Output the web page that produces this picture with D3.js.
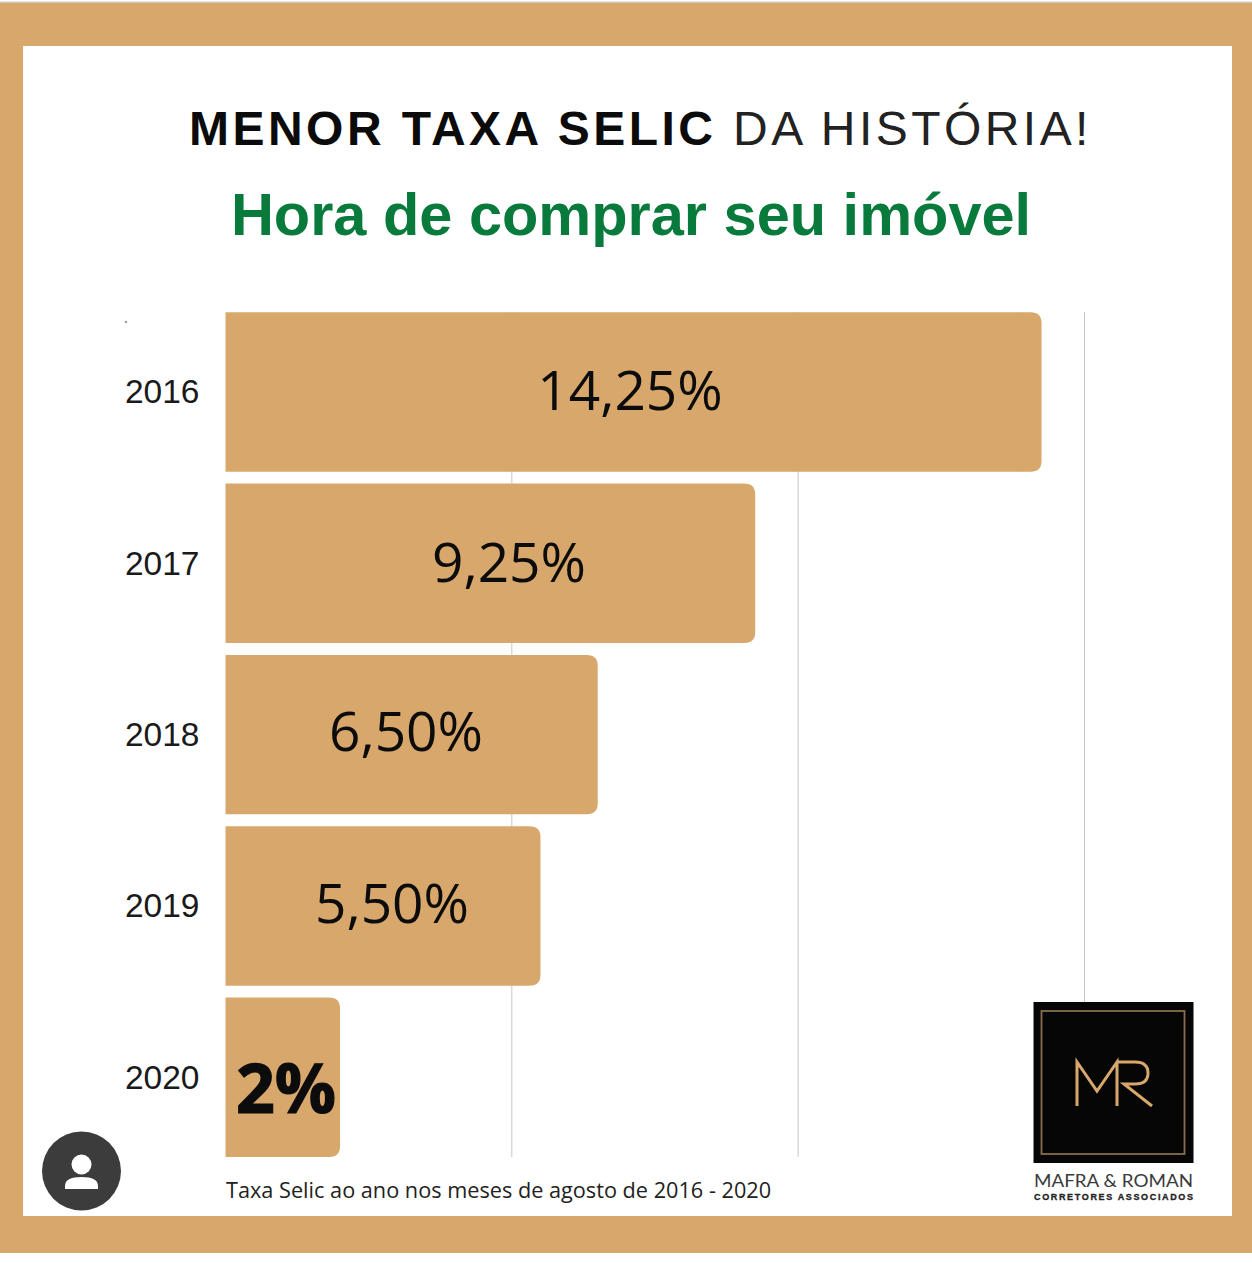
<!DOCTYPE html>
<html><head><meta charset="utf-8">
<script src="https://cdn.jsdelivr.net/npm/d3@7/dist/d3.min.js"></script>
<style>html,body{margin:0;padding:0;background:#fff;overflow:hidden}svg{display:block}</style>
</head><body><svg id="c" width="1252" height="1263"></svg>
<script>
const years = ["2016","2017","2018","2019","2020"];
const selic = [14.25,9.25,6.5,5.5,2];
const valueLabels = ["14,25%","9,25%","6,50%","5,50%","2%"];
const gridTicks = [5,10,15];
const titleBold = "MENOR TAXA SELIC";
const titleLight = " DA HISTÓRIA!";
const subtitle = "Hora de comprar seu imóvel";
const footnote = "Taxa Selic ao ano nos meses de agosto de 2016 - 2020";
const tan = "#d7a76c";
const svg = d3.select("#c");
const sans = "'Liberation Sans',Arial,sans-serif", open = "'Open Sans',sans-serif";

svg.append("rect").attr("x",0).attr("y",3).attr("width",1252).attr("height",1250).attr("fill",tan);
svg.append("rect").attr("x",0).attr("y",1.5).attr("width",1252).attr("height",1.5).attr("fill","#cfc8bd");
svg.append("rect").attr("x",23).attr("y",46).attr("width",1209).attr("height",1170).attr("fill","#fff");

const x = d3.scaleLinear().domain([0,15]).range([225.5,1084.5]);
const y = d3.scaleBand().domain(years).range([312.3,1157]).paddingInner(0.0695).paddingOuter(0);

const grid = svg.append("g");
grid.selectAll("line").data(gridTicks).join("line")
  .attr("x1",d=>x(d)).attr("x2",d=>x(d)).attr("y1",312).attr("y2",1157)
  .attr("stroke","#c6c6c6").attr("stroke-width",1);

const r = 11;
svg.append("g").selectAll("path").data(years).join("path")
  .attr("fill",tan)
  .attr("d",(d,i)=>{
    const x0=x(0),x1=x(selic[i]),t=y(d),b=t+y.bandwidth();
    return `M${x0},${t}H${x1-r}Q${x1},${t} ${x1},${t+r}V${b-r}Q${x1},${b} ${x1-r},${b}H${x0}Z`;
  });

const axis = d3.axisLeft(y).tickSize(0).tickPadding(26);
const ag = svg.append("g").attr("transform",`translate(${x(0)},0)`).call(axis);
ag.select(".domain").remove();
ag.selectAll("text").attr("font-family",sans).attr("font-size",33.5).attr("fill","#1a1a1a").attr("dy","0.32em")
  .attr("y",0.5);

const labelCx = [630,509,406,392,286];
const labelDy = [18,19,16,17.5,36];
svg.append("g").selectAll("text").data(years).join("text")
  .attr("x",(d,i)=>labelCx[i])
  .attr("y",(d,i)=>y(d)+y.bandwidth()/2+labelDy[i])
  .attr("text-anchor","middle").attr("font-family",open).attr("fill","#0c0c0c")
  .attr("font-size",(d,i)=>i===4?68:55)
  .attr("font-weight",(d,i)=>i===4?700:400)
  .attr("stroke",(d,i)=>i===4?"#0c0c0c":"none")
  .attr("stroke-width",1.2)
  .text((d,i)=>valueLabels[i]);

const t = svg.append("text").attr("x",640.5).attr("y",144.5).attr("text-anchor","middle")
  .attr("font-family",sans).attr("font-size",48).attr("letter-spacing",3.45).attr("fill","#0b0b0b");
t.append("tspan").attr("font-weight",700).text(titleBold);
t.append("tspan").attr("font-weight",400).attr("fill","#222").text(titleLight);

svg.append("text").attr("x",631).attr("y",235).attr("text-anchor","middle").attr("font-family",sans)
  .attr("font-size",59.5).attr("font-weight",700).attr("fill","#087a3c").text(subtitle);

svg.append("text").attr("x",226).attr("y",1198).attr("font-family",open).attr("font-size",21.7)
  .attr("fill","#222").text(footnote);

svg.append("circle").attr("cx",126).attr("cy",322).attr("r",1.2).attr("fill","#999");

// avatar
svg.append("circle").attr("cx",81.5).attr("cy",1171).attr("r",39.5).attr("fill","#3c3c3c");
svg.append("circle").attr("cx",81.5).attr("cy",1164.5).attr("r",10).attr("fill","#fff");
svg.append("path").attr("fill","#fff").attr("d","M65,1189V1186Q65,1177 81.5,1177Q98,1177 98,1186V1189Z");

// logo
svg.append("rect").attr("x",1033.5).attr("y",1002).attr("width",160).attr("height",161).attr("fill","#060606");
svg.append("rect").attr("x",1041.5).attr("y",1011).attr("width",143).attr("height",143).attr("fill","none").attr("stroke","#8a6d4c").attr("stroke-width",1.8);
svg.append("path").attr("fill","none").attr("stroke",tan).attr("stroke-width",3)
  .attr("d","M1077,1106V1062L1097,1091L1117,1062V1106M1117,1062H1135Q1148,1062 1148,1073Q1148,1084 1135,1084H1124L1152,1106");
svg.append("text").attr("x",1113.5).attr("y",1187).attr("text-anchor","middle").attr("font-family","Lato,sans-serif")
  .attr("font-size",18).attr("fill","#3a3a3a").attr("textLength",159).attr("lengthAdjust","spacingAndGlyphs").text("MAFRA & ROMAN");
svg.append("text").attr("x",1113.5).attr("y",1200).attr("text-anchor","middle").attr("font-family",sans).attr("font-weight",700)
  .attr("font-size",9).attr("fill","#222").attr("stroke","#222").attr("stroke-width",0.3).attr("textLength",159).attr("lengthAdjust","spacing").text("CORRETORES ASSOCIADOS");
</script></body></html>
